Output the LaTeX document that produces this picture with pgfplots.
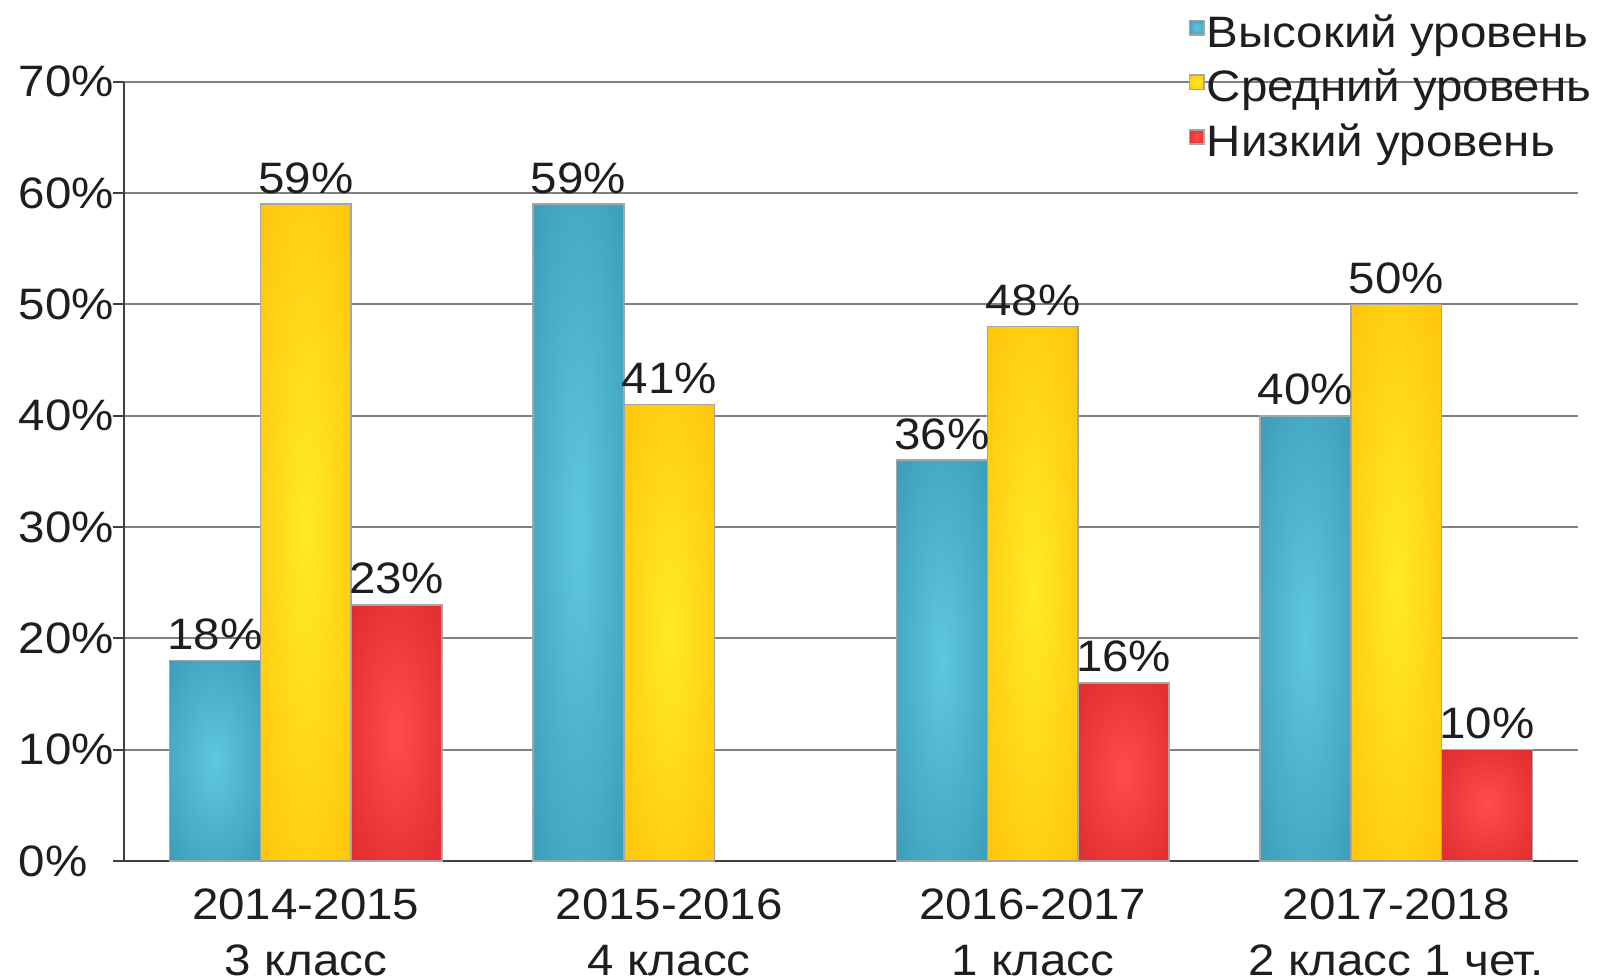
\documentclass[border=0pt]{standalone}
\usepackage{fontspec}
\setmainfont{Liberation Sans}[FakeStretch=1.08]
\usepackage{pgfplots}
\pgfplotsset{compat=1.18}

% bar shadings: light centre, darker rim
\pgfdeclareradialshading{bluesh}{\pgfpoint{0bp}{0bp}}{rgb(0bp)=(0.37,0.78,0.87); rgb(50bp)=(0.17,0.55,0.67)}
\pgfdeclareradialshading{yellowsh}{\pgfpoint{0bp}{0bp}}{rgb(0bp)=(1,0.92,0.14); rgb(50bp)=(1,0.71,0)}
\pgfdeclareradialshading{redsh}{\pgfpoint{0bp}{0bp}}{rgb(0bp)=(1,0.30,0.30); rgb(50bp)=(0.82,0.12,0.14)}

\definecolor{gridgray}{HTML}{808080}
\definecolor{axisgray}{HTML}{404040}
\definecolor{txt}{HTML}{1E1E1E}

\newcommand{\lbl}{\fontsize{11}{14}\selectfont}

% each bar is its own plot so the shading fits the bar
\pgfplotsset{
  barbase/.style={ybar, bar width=0.25, bar shift=0, draw=black!35, line width=0.4pt},
  hi/.style={barbase, shading=bluesh},
  mid/.style={barbase, shading=yellowsh},
  lo/.style={barbase, shading=redsh},
}

\begin{document}
\begin{tikzpicture}
\path[use as bounding box] (-31pt,-29.75pt) rectangle (369.5pt,215.25pt);
\begin{axis}[
  scale only axis,
  width=363.5pt,
  height=194.8pt,
  xmin=-0.5, xmax=3.5,
  ymin=0, ymax=70,
  axis x line*=bottom,
  axis y line*=left,
  axis line style={axisgray, line width=0.5pt},
  xtick={0,1,2,3},
  xticklabels={{2014-2015\\3 класс},{2015-2016\\4 класс},{2016-2017\\1 класс},{2017-2018\\2 класс 1 чет.}},
  xticklabel style={align=center, font=\lbl, text=txt, inner sep=2pt, yshift=-2pt},
  major x tick style={draw=none},
  ytick={0,10,...,70},
  yticklabel={\pgfmathprintnumber{\tick}\%},
  yticklabel style={font=\lbl, text=txt, xshift=2.5pt, text width=22.5pt, align=left},
  tick align=outside,
  major tick length=2.75pt,
  major y tick style={axisgray, line width=0.5pt},
  ymajorgrids,
  grid style={gridgray, line width=0.5pt},
  /pgf/number format/assume math mode=true,
  nodes near coords={\pgfmathprintnumber{\pgfplotspointmeta}\%},
  every node near coord/.append style={font=\lbl, text=txt, anchor=south, inner ysep=2.5pt},
  legend image code/.code={\path[#1] (0pt,-0.2pt) rectangle (3.6pt,3.4pt);},
  legend cell align=left,
  legend style={draw=none, fill=none, font=\lbl, text=txt,
    at={(axis description cs:0.7235,1.100)}, anchor=north west,
    nodes={inner sep=0.5pt}, row sep=3pt,
    /tikz/every even column/.append style={column sep=0.8pt}},
  clip=false,
]
% 2014-2015
\addplot[hi]  coordinates {(-0.25,18)};
\addplot[mid] coordinates {(0,59)};
\addplot[lo]  coordinates {(0.25,23)};
\legend{Высокий уровень,Средний уровень,Низкий уровень}
% 2015-2016 (no low level bar)
\addplot[hi, forget plot]  coordinates {(0.75,59)};
\addplot[mid, forget plot] coordinates {(1,41)};
% 2016-2017
\addplot[hi, forget plot]  coordinates {(1.75,36)};
\addplot[mid, forget plot] coordinates {(2,48)};
\addplot[lo, forget plot]  coordinates {(2.25,16)};
% 2017-2018
\addplot[hi, forget plot]  coordinates {(2.75,40)};
\addplot[mid, forget plot] coordinates {(3,50)};
\addplot[lo, forget plot]  coordinates {(3.25,10)};
\end{axis}
\end{tikzpicture}
\end{document}
